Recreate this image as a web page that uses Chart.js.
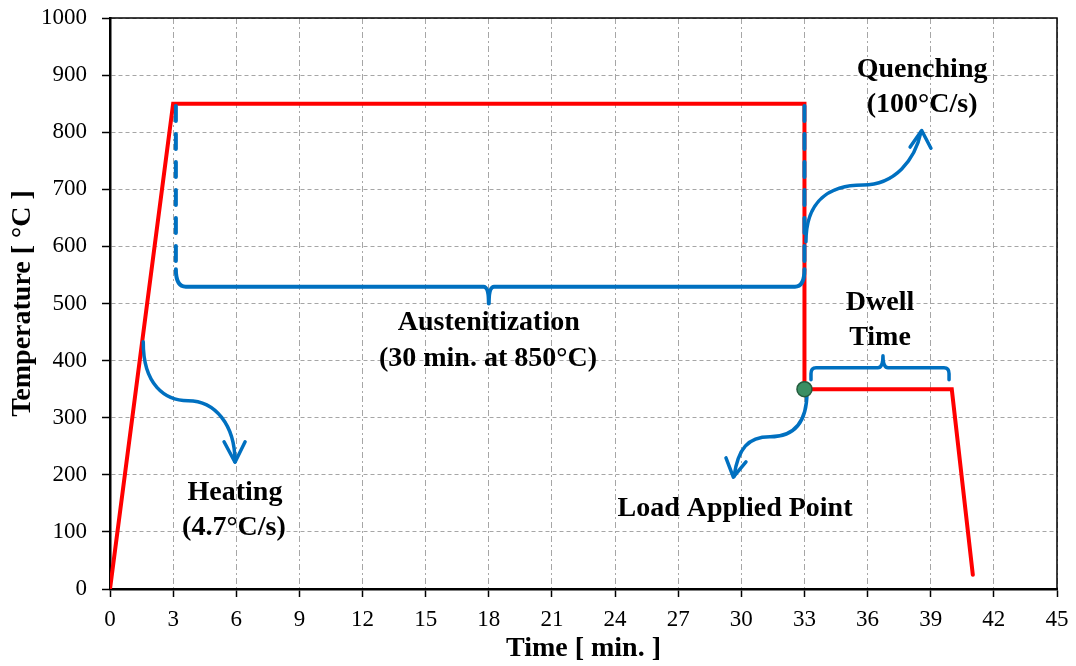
<!DOCTYPE html>
<html>
<head>
<meta charset="utf-8">
<title>Heat treatment cycle</title>
<script src="https://cdn.jsdelivr.net/npm/chart.js@4.4.1/dist/chart.umd.min.js"></script>
<style>
  html, body { margin: 0; padding: 0; background: #ffffff; }
  canvas { display: block; }
</style>
</head>
<body>
<canvas id="chart" width="1076" height="666"></canvas>
<script>
// Heat-treatment cycle: time in minutes against temperature in °C
const timeMin = [0, 3, 33, 33, 40, 41];
const tempC   = [0, 850, 850, 350, 350, 25];

// Moment the load is applied (end of the quench)
const loadTime = [33];
const loadTemp = [350];

// Axis tick values
const timeTicks = [0, 3, 6, 9, 12, 15, 18, 21, 24, 27, 30, 33, 36, 39, 42, 45];
const tempTicks = [0, 100, 200, 300, 400, 500, 600, 700, 800, 900, 1000];

// Text notes, placed in data units (centre x, baseline y)
const notes = [
  { text: 'Quenching',          x: 38.59, y: 896 },
  { text: '(100°C/s)',          x: 38.59, y: 836 },
  { text: 'Dwell',              x: 36.59, y: 489 },
  { text: 'Time',               x: 36.59, y: 428 },
  { text: 'Austenitization',    x: 18.0,  y: 454 },
  { text: '(30 min. at 850°C)', x: 17.96, y: 391 },
  { text: 'Heating',            x: 5.94,  y: 156 },
  { text: '(4.7°C/s)',          x: 5.89,  y: 95 },
  { text: 'Load Applied Point', x: 29.7,  y: 127 }
];

// Curved arrows: start point, two cubic segments, arrowhead arms (data units)
const arrows = [
  { start: [33.07, 608],
    curves: [[33.07, 681, 34.21, 707.6, 35.78, 707.6], [37.30, 707.6, 38.25, 751.4, 38.54, 800.4]],
    tip: [38.57, 803], arms: [[38.02, 774], [39.01, 772]] },
  { start: [1.58, 433],
    curves: [[1.57, 357.8, 2.61, 329.8, 3.71, 329.8], [4.99, 329.8, 5.94, 287.7, 5.94, 223]],
    tip: [5.94, 222], arms: [[5.42, 257.8], [6.42, 257.8]] },
  { start: [33.12, 345],
    curves: [[33.12, 287.5, 32.40, 266.5, 31.36, 266.5], [30.31, 266.5, 29.85, 246, 29.65, 197]],
    tip: [29.62, 196], arms: [[29.27, 229.8], [30.22, 222.8]] }
];

const BLUE = '#0070C0';
const SERIF = "'Liberation Serif', 'Times New Roman', serif";

const annotate = {
  id: 'annotate',
  afterDatasetDraw(chart, args) {
    if (args.index !== 0) return;
    const { ctx, scales: { x, y } } = chart;
    const X = v => x.getPixelForValue(v);
    const Y = v => y.getPixelForValue(v);
    ctx.save();
    ctx.strokeStyle = BLUE;
    ctx.lineWidth = 4;
    ctx.lineCap = 'round';
    ctx.lineJoin = 'round';

    // Austenitization brace: dashed arms along the hold, solid lower bar
    ctx.setLineDash([15, 13]);
    [3.13, 33.0].forEach(xv => {
      ctx.beginPath();
      ctx.moveTo(X(xv), Y(846));
      ctx.lineTo(X(xv), Y(565));
      ctx.stroke();
    });
    ctx.setLineDash([]);
    ctx.beginPath();
    ctx.moveTo(X(3.13), Y(560));
    ctx.quadraticCurveTo(X(3.13), Y(529.5), X(3.6), Y(529.5));
    ctx.lineTo(X(17.75), Y(529.5));
    ctx.quadraticCurveTo(X(18.0), Y(529.5), X(18.0), Y(500));
    ctx.quadraticCurveTo(X(18.0), Y(529.5), X(18.25), Y(529.5));
    ctx.lineTo(X(32.55), Y(529.5));
    ctx.quadraticCurveTo(X(33.0), Y(529.5), X(33.0), Y(560));
    ctx.stroke();

    // Dwell brace
    ctx.lineWidth = 3.5;
    ctx.beginPath();
    ctx.moveTo(X(33.31), Y(366.4));
    ctx.lineTo(X(33.31), Y(377));
    ctx.quadraticCurveTo(X(33.31), Y(387.4), X(33.55), Y(387.4));
    ctx.lineTo(X(36.49), Y(387.4));
    ctx.quadraticCurveTo(X(36.73), Y(387.4), X(36.73), Y(408.4));
    ctx.quadraticCurveTo(X(36.73), Y(387.4), X(36.97), Y(387.4));
    ctx.lineTo(X(39.63), Y(387.4));
    ctx.quadraticCurveTo(X(39.87), Y(387.4), X(39.87), Y(377));
    ctx.lineTo(X(39.87), Y(366.4));
    ctx.stroke();

    // Curved arrows
    ctx.lineWidth = 3.5;
    arrows.forEach(a => {
      ctx.beginPath();
      ctx.moveTo(X(a.start[0]), Y(a.start[1]));
      a.curves.forEach(c => {
        ctx.bezierCurveTo(X(c[0]), Y(c[1]), X(c[2]), Y(c[3]), X(c[4]), Y(c[5]));
      });
      ctx.stroke();
      ctx.beginPath();
      ctx.moveTo(X(a.arms[0][0]), Y(a.arms[0][1]));
      ctx.lineTo(X(a.tip[0]), Y(a.tip[1]));
      ctx.lineTo(X(a.arms[1][0]), Y(a.arms[1][1]));
      ctx.stroke();
    });
    ctx.restore();
  },
  afterDraw(chart) {
    const { ctx, chartArea: area, scales: { x, y } } = chart;
    ctx.save();
    // top and right frame
    ctx.strokeStyle = '#000000';
    ctx.lineWidth = 1.5;
    ctx.beginPath();
    ctx.moveTo(area.left, area.top);
    ctx.lineTo(area.right, area.top);
    ctx.lineTo(area.right, area.bottom);
    ctx.stroke();

    // notes
    ctx.fillStyle = '#000000';
    ctx.font = 'bold 28px ' + SERIF;
    ctx.textAlign = 'center';
    ctx.textBaseline = 'alphabetic';
    notes.forEach(n => {
      ctx.fillText(n.text, x.getPixelForValue(n.x), y.getPixelForValue(n.y));
    });
    ctx.restore();
  }
};

new Chart(document.getElementById('chart'), {
  type: 'line',
  data: {
    datasets: [
      {
        label: 'Temperature',
        data: timeMin.map((t, i) => ({ x: t, y: tempC[i] })),
        borderColor: '#ff0000',
        borderWidth: 4,
        borderCapStyle: 'round',
        pointRadius: 0,
        tension: 0,
        fill: false,
        order: 2
      },
      {
        label: 'Load applied',
        data: loadTime.map((t, i) => ({ x: t, y: loadTemp[i] })),
        showLine: false,
        pointRadius: 7.5,
        pointBackgroundColor: '#3b8f63',
        pointBorderColor: '#245c3e',
        pointBorderWidth: 1.5,
        order: 1
      }
    ]
  },
  options: {
    responsive: false,
    devicePixelRatio: 1,
    animation: false,
    layout: { padding: { left: 0, right: 19, top: 18, bottom: 0 } },
    plugins: {
      legend: { display: false },
      tooltip: { enabled: false }
    },
    scales: {
      x: {
        type: 'linear',
        min: 0,
        max: 45,
        afterBuildTicks: s => { s.ticks = timeTicks.map(v => ({ value: v })); },
        afterFit: s => { s.height = 77; s.paddingLeft = 0; s.paddingRight = 0; },
        ticks: {
          color: '#000000',
          font: { family: SERIF, size: 23 },
          padding: 9,
          maxRotation: 0,
          autoSkip: false,
          callback: v => String(v)
        },
        grid: {
          color: '#a6a6a6',
          lineWidth: 1,
          tickLength: 8,
          tickColor: '#000000',
          tickWidth: 1.5,
          tickBorderDash: []
        },
        border: { display: true, color: '#000000', width: 2.5, dash: [6, 3, 2, 3] },
        title: {
          display: true,
          text: 'Time [ min. ]',
          color: '#000000',
          font: { family: SERIF, size: 28, weight: 'bold' },
          padding: { top: 0, bottom: 0 }
        }
      },
      y: {
        type: 'linear',
        min: 0,
        max: 1000,
        afterBuildTicks: s => { s.ticks = tempTicks.map(v => ({ value: v })); },
        afterFit: s => { s.width = 110; s.paddingTop = 0; s.paddingBottom = 0; },
        ticks: {
          color: '#000000',
          font: { family: SERIF, size: 23 },
          padding: 15,
          callback: v => String(v)
        },
        grid: {
          color: '#a6a6a6',
          lineWidth: 1,
          tickLength: 8,
          tickColor: '#000000',
          tickWidth: 1.5,
          tickBorderDash: []
        },
        border: { display: true, color: '#000000', width: 2.5, dash: [4, 3] },
        title: {
          display: true,
          text: 'Temperature [ °C ]',
          color: '#000000',
          font: { family: SERIF, size: 28, weight: 'bold' },
          padding: { top: 6, bottom: 0 }
        }
      }
    }
  },
  plugins: [annotate]
});
</script>
</body>
</html>
